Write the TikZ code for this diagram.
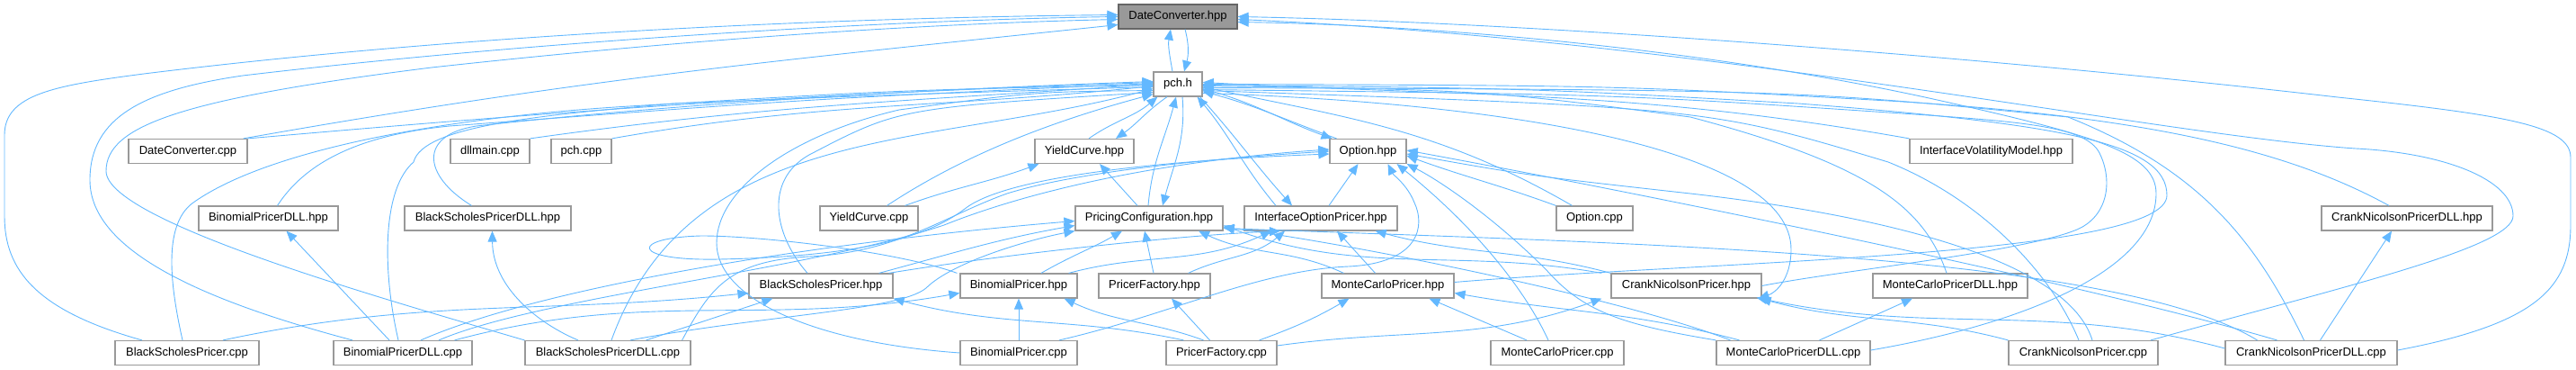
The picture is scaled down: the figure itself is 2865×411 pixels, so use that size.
\documentclass[tikz,border=0pt]{standalone}
\usepackage{fontspec}
\setmainfont{Liberation Sans}
\usetikzlibrary{arrows.meta}
\definecolor{edgeblue}{HTML}{63B8FF}
\definecolor{boxgray}{HTML}{999999}
\definecolor{rootgray}{HTML}{666666}
\tikzset{
  incfile/.style={draw=boxgray,line width=1.2pt,fill=white,minimum height=27pt,minimum width=#1,inner sep=0pt,font=\fontsize{13}{15}\selectfont},
  rootfile/.style={incfile=#1,fill=boxgray,draw=rootgray},
  dep/.style={draw=edgeblue,line width=0.9pt,-{Triangle[length=12pt,width=10pt]}}
}
\begin{document}
\begin{tikzpicture}[x=1pt,y=1pt]
\useasboundingbox (0,0) rectangle (2865,-411);
% files
\node[rootfile=132pt] (dch) at (1310,-18.5) {DateConverter.hpp};
\node[incfile=54pt] (pch) at (1310,-93.5) {pch.h};
\node[incfile=132pt] (dcc) at (209,-168) {DateConverter.cpp};
\node[incfile=88pt] (dllm) at (545,-168) {dllmain.cpp};
\node[incfile=67pt] (pchc) at (646.5,-168) {pch.cpp};
\node[incfile=110pt] (ych) at (1206,-168) {YieldCurve.hpp};
\node[incfile=85pt] (oph) at (1521.5,-168) {Option.hpp};
\node[incfile=181pt] (ivm) at (2214.5,-168) {InterfaceVolatilityModel.hpp};
\node[incfile=155pt] (bpdh) at (298.5,-242.5) {BinomialPricerDLL.hpp};
\node[incfile=185pt] (bspdh) at (542.5,-242.5) {BlackScholesPricerDLL.hpp};
\node[incfile=109pt] (ycc) at (966.5,-242.5) {YieldCurve.cpp};
\node[incfile=164pt] (pcfg) at (1278,-242.5) {PricingConfiguration.hpp};
\node[incfile=170pt] (iop) at (1469,-242.5) {InterfaceOptionPricer.hpp};
\node[incfile=85pt] (opc) at (1773.5,-242.5) {Option.cpp};
\node[incfile=190pt] (cnpdh) at (2677,-242.5) {CrankNicolsonPricerDLL.hpp};
\node[incfile=160pt] (bsph) at (913,-317.5) {BlackScholesPricer.hpp};
\node[incfile=130pt] (bph) at (1133,-317.5) {BinomialPricer.hpp};
\node[incfile=124pt] (pfh) at (1284,-317.5) {PricerFactory.hpp};
\node[incfile=147pt] (mcph) at (1543.5,-317.5) {MonteCarloPricer.hpp};
\node[incfile=167pt] (cnph) at (1875.5,-317.5) {CrankNicolsonPricer.hpp};
\node[incfile=172pt] (mcpdh) at (2169,-317.5) {MonteCarloPricerDLL.hpp};
\node[incfile=160pt] (bspc) at (208,-392) {BlackScholesPricer.cpp};
\node[incfile=154pt] (bpdc) at (448,-392) {BinomialPricerDLL.cpp};
\node[incfile=184pt] (bspdc) at (676,-392) {BlackScholesPricerDLL.cpp};
\node[incfile=130pt] (bpc) at (1133,-392) {BinomialPricer.cpp};
\node[incfile=123pt] (pfc) at (1358.5,-392) {PricerFactory.cpp};
\node[incfile=148pt] (mcpc) at (1732,-392) {MonteCarloPricer.cpp};
\node[incfile=171pt] (mcpdc) at (1994.5,-392) {MonteCarloPricerDLL.cpp};
\node[incfile=166pt] (cnpc) at (2317,-392) {CrankNicolsonPricer.cpp};
\node[incfile=191pt] (cnpdc) at (2570.5,-392) {CrankNicolsonPricerDLL.cpp};
% DateConverter.hpp
\draw[dep] ([xshift=-6pt]pch.north) to[out=100,in=-100] ([xshift=-8pt]dch.south);
\draw[dep] ([xshift=8pt]dch.south) to[out=-75,in=75] ([xshift=7pt]pch.north);
\draw[dep] ([xshift=-5pt]dcc.north east) to[out=10,in=186] ([yshift=-9pt]dch.west);
\draw[dep] ([xshift=-50pt]bspc.north) .. controls (40,-345) and (5,-300) .. (5,-240) -- (5,-150) .. controls (5,-105) and (60,-95) .. (160,-82) .. controls (500,-40) and (900,-20) .. ([yshift=2pt]dch.west);
\draw[dep] ([xshift=-56pt]bpdc.north) .. controls (230,-335) and (100,-280) .. (100,-200) .. controls (100,-130) and (160,-100) .. (270,-84) .. controls (600,-45) and (1000,-22) .. (dch.west);
\draw[dep] (bspdc.north west) .. controls (420,-330) and (118,-245) .. (118,-190) .. controls (118,-140) and (200,-110) .. (480,-75) .. controls (800,-40) and (1050,-26) .. ([yshift=-3pt]dch.west);
\draw[dep] ([yshift=3pt]cnpdc.east) .. controls (2820,-360) and (2859,-320) .. (2859,-250) -- (2859,-175) .. controls (2859,-140) and (2790,-128) .. (2600,-108) .. controls (2200,-62) and (1700,-25) .. (dch.east);
\draw[dep] ([xshift=75pt]cnpc.north) .. controls (2600,-320) and (2795,-275) .. (2795,-240) .. controls (2795,-200) and (2720,-170) .. (2620,-165) .. controls (2400,-150) and (1900,-45) .. ([yshift=-3pt]dch.east);
\draw[dep] ([yshift=3pt]mcpdc.east) .. controls (2250,-360) and (2398,-300) .. (2398,-215) .. controls (2398,-170) and (2330,-150) .. (2150,-110) .. controls (1900,-55) and (1600,-28) .. ([yshift=-6pt]dch.east);
% pch.h from the left
\draw[dep] (dcc.north east) to[out=5,in=182] ([yshift=2pt]pch.west);
\draw[dep] (dllm.north east) to[out=8,in=184] (pch.west);
\draw[dep] (pchc.north east) to[out=10,in=186] ([yshift=-2pt]pch.west);
\draw[dep] ([xshift=10pt]bpdh.north) .. controls (340,-180) and (400,-150) .. (500,-140) .. controls (900,-110) .. ([yshift=1pt]pch.west);
\draw[dep] ([xshift=-18pt]bspdh.north) .. controls (470,-195) and (465,-150) .. (530,-140) .. controls (800,-110) and (1100,-97) .. ([yshift=3pt]pch.west);
\draw[dep] ([xshift=20pt]ycc.north) .. controls (1060,-180) and (1150,-140) .. ([yshift=3pt]pch.south west);
\draw[dep] ([xshift=-5pt]bspc.north) .. controls (190,-320) and (180,-250) .. (215,-225) .. controls (300,-165) and (500,-130) .. (700,-118) .. controls (1000,-100) .. ([yshift=-1pt]pch.west);
\draw[dep] ([xshift=-5pt]bpdc.north) .. controls (425,-300) and (425,-210) .. (460,-180) .. controls (470,-140) and (600,-128) .. (750,-115) .. controls (1000,-105) .. ([yshift=-3pt]pch.west);
\draw[dep] ([xshift=4pt]bspdc.north) to[out=70,in=195] ([yshift=-5pt]pch.west);
\draw[dep] (bpc.west) .. controls (900,-380) and (797,-330) .. (797,-270) .. controls (797,-210) and (880,-150) .. (1000,-122) .. controls (1150,-102) .. ([yshift=-7pt]pch.west);
\draw[dep] ([xshift=-15pt]bsph.north) .. controls (860,-260) and (850,-200) .. (900,-172) .. controls (1000,-120) .. ([yshift=-9pt]pch.west);
% pch.h from below, both ways
\draw[dep] ([xshift=5pt]ych.north) to[out=35,in=220] ([xshift=5pt]pch.south west);
\draw[dep] ([xshift=-12pt]pch.south) to[out=-145,in=35] ([xshift=35pt]ych.north);
\draw[dep] ([xshift=-1pt]pcfg.north) to[out=85,in=-105] ([xshift=-2pt]pch.south);
\draw[dep] ([xshift=5pt]pch.south) to[out=-85,in=75] ([xshift=15pt]pcfg.north);
\draw[dep] ([xshift=-50pt]iop.north) to[out=130,in=-50] ([xshift=-6pt]pch.south east);
\draw[dep] ([xshift=-3pt]pch.south east) to[out=-48,in=132] ([xshift=-32pt]iop.north);
\draw[dep] ([xshift=-35pt]oph.north) to[out=160,in=-15] ([yshift=-8pt]pch.east);
\draw[dep] ([yshift=-5pt]pch.east) to[out=-15,in=160] ([xshift=-40pt]oph.north);
% pch.h from the right
\draw[dep] (ivm.north west) to[out=170,in=-3] ([yshift=2pt]pch.east);
\draw[dep] ([xshift=-25pt]opc.north) to[out=150,in=-12] ([yshift=-3pt]pch.east);
\draw[dep] ([xshift=-20pt]cnpdh.north) .. controls (2550,-170) and (2400,-130) .. (2100,-112) .. controls (1800,-95) .. (pch.east);
\draw[dep] ([xshift=-4pt]mcpdh.north) .. controls (2140,-230) and (2080,-183) .. (1880,-130) .. controls (1650,-100) .. ([yshift=-2pt]pch.east);
\draw[dep] (cnph.east) .. controls (2050,-300) and (2250,-280) .. (2310,-255) .. controls (2345,-240) and (2350,-200) .. (2335,-170) .. controls (2320,-140) and (2250,-135) .. (2100,-125) .. controls (1800,-105) .. ([yshift=-6pt]pch.east);
\draw[dep] ([yshift=4pt]mcph.east) .. controls (1900,-290) and (2410,-285) .. (2410,-217) .. controls (2410,-160) and (2300,-138) .. (2000,-115) .. controls (1700,-98) .. ([yshift=-1pt]pch.east);
\draw[dep] ([xshift=-5pt]cnpc.north) .. controls (2280,-300) and (2200,-220) .. (2100,-180) .. controls (1900,-120) .. ([yshift=-7pt]pch.east);
\draw[dep] ([xshift=-8pt]cnpdc.north) .. controls (2510,-270) and (2450,-190) .. (2300,-130) .. controls (2000,-100) .. ([yshift=-4pt]pch.east);
\draw[dep] ([yshift=-10pt]pch.east) .. controls (1700,-115) and (1992,-170) .. (1992,-277) .. controls (1992,-310) and (1975,-325) .. ([xshift=-4pt]cnph.south east);
% YieldCurve.hpp
\draw[dep] ([xshift=40pt]ycc.north) to[out=20,in=200] ([xshift=5pt]ych.south west);
\draw[dep] ([xshift=-13pt]pcfg.north) -- ([xshift=17pt]ych.south);
% Option.hpp
\draw[dep] ([xshift=9pt]iop.north) -- ([xshift=-11pt]oph.south);
\draw[dep] (opc.north west) to[out=160,in=-20] ([yshift=-5pt]oph.east);
\draw[dep] ([xshift=-3pt]bph.north west) .. controls (1000,-280) and (850,-262) .. (780,-262) .. controls (700,-264) and (700,-290) .. (800,-288) .. controls (950,-285) and (1030,-265) .. (1073,-232) .. controls (1120,-195) and (1300,-178) .. ([yshift=-3pt]oph.west);
\draw[dep] ([xshift=40pt]bpdc.north) .. controls (600,-330) and (900,-300) .. (1050,-250) .. controls (1150,-210) and (1300,-178) .. ([yshift=2pt]oph.west);
\draw[dep] ([xshift=-10pt]bspdc.north east) .. controls (790,-320) and (810,-290) .. (900,-285) .. controls (1000,-280) and (1050,-240) .. (1120,-215) .. controls (1200,-190) and (1350,-176) .. (oph.west);
\draw[dep] ([xshift=45pt]bpc.north) .. controls (1300,-350) and (1400,-300) .. (1500,-296) .. controls (1580,-292) and (1585,-250) .. (1573,-225) .. controls (1565,-205) and (1550,-195) .. ([xshift=22pt]oph.south);
\draw[dep] ([xshift=-10pt]mcpc.north) .. controls (1700,-330) and (1650,-260) .. ([xshift=32pt]oph.south);
\draw[dep] (mcpdc.north west) .. controls (1800,-360) and (1760,-345) .. (1720,-300) .. controls (1660,-240) and (1600,-200) .. (oph.south east);
\draw[dep] ([xshift=10pt]cnpc.north) .. controls (2300,-290) and (2100,-240) .. (1880,-215) .. controls (1700,-195) .. ([yshift=-3pt]oph.east);
\draw[dep] ([xshift=-38pt]cnpdc.north) .. controls (2300,-310) and (1800,-210) .. ([yshift=1pt]oph.east);
% PricingConfiguration.hpp
\draw[dep] ([xshift=-16pt]bsph.north east) to[out=15,in=190] ([yshift=-8pt]pcfg.west);
\draw[dep] ([xshift=25pt]bph.north) to[out=30,in=-150] ([xshift=-30pt]pcfg.south);
\draw[dep] ([xshift=-1pt]pfh.north) -- ([xshift=-5pt]pcfg.south);
\draw[dep] ([xshift=25pt]mcph.north west) to[out=155,in=-25] ([xshift=55pt]pcfg.south);
\draw[dep] ([xshift=-10pt]cnph.north west) to[out=170,in=-20] ([yshift=-8pt]pcfg.east);
\draw[dep] ([xshift=20pt]bpdc.north) .. controls (600,-320) and (900,-270) .. ([yshift=-3pt]pcfg.west);
\draw[dep] ([xshift=25pt]bspdc.north) .. controls (850,-350) and (1000,-345) .. (1030,-320) .. controls (1060,-290) and (1150,-265) .. (pcfg.south west);
\draw[dep] ([xshift=-70pt]mcpdc.north) .. controls (1800,-330) and (1500,-270) .. ([yshift=-10pt]pcfg.east);
\draw[dep] ([xshift=-60pt]cnpdc.north) .. controls (2350,-280) and (1800,-270) .. ([yshift=-11pt]pcfg.east);
% InterfaceOptionPricer.hpp
\draw[dep] ([xshift=-5pt]bsph.north east) .. controls (1100,-285) and (1300,-262) .. ([xshift=-45pt]iop.south);
\draw[dep] ([xshift=-10pt]bph.north east) to[out=15,in=-155] ([xshift=-55pt]iop.south);
\draw[dep] ([xshift=-25pt]pfh.north east) to[out=25,in=-140] ([xshift=-40pt]iop.south);
\draw[dep] ([xshift=-14pt]mcph.north) -- ([xshift=18pt]iop.south);
\draw[dep] (cnph.north west) to[out=165,in=-15] ([xshift=-25pt]iop.south east);
% DLL headers
\draw[dep] ([xshift=-15pt]bpdc.north) -- ([xshift=20pt]bpdh.south);
\draw[dep] ([xshift=-33pt]bspdc.north) .. controls (600,-360) and (548,-320) .. ([xshift=5pt]bspdh.south);
\draw[dep] ([xshift=10pt]cnpdc.north) -- ([xshift=-17pt]cnpdh.south);
\draw[dep] ([xshift=29pt]mcpdc.north) -- ([xshift=-42pt]mcpdh.south);
% pricer headers
\draw[dep] ([xshift=40pt]bspc.north) to[out=12,in=186] ([yshift=-8pt]bsph.west);
\draw[dep] ([xshift=-50pt]bspdc.north east) -- ([xshift=27pt]bsph.south west);
\draw[dep] ([xshift=20pt]pfc.north west) to[out=168,in=-15] (bsph.south east);
\draw[dep] ([xshift=-20pt]bpdc.north east) to[out=15,in=190] ([yshift=-8pt]bph.west);
\draw[dep] (bpc.north) -- (bph.south);
\draw[dep] ([xshift=-20pt]pfc.north) to[out=160,in=-25] ([xshift=-15pt]bph.south east);
\draw[dep] ([xshift=-13pt]pfc.north) -- ([xshift=19pt]pfh.south);
\draw[dep] ([xshift=-20pt]pfc.north east) to[out=20,in=-150] ([xshift=-43pt]mcph.south);
\draw[dep] ([xshift=-34pt]mcpc.north) -- ([xshift=46pt]mcph.south);
\draw[dep] ([xshift=-60pt]mcpdc.north) to[out=165,in=-10] ([yshift=-8pt]mcph.east);
\draw[dep] ([yshift=8pt]pfc.east) to[out=8,in=-160] ([xshift=-10pt]cnph.south west);
\draw[dep] (cnpc.north west) to[out=165,in=-15] ([xshift=-2pt]cnph.south east);
\draw[dep] ([yshift=5pt]cnpdc.west) to[out=165,in=-12] ([xshift=-6pt,yshift=1pt]cnph.south east);
\end{tikzpicture}
\end{document}
